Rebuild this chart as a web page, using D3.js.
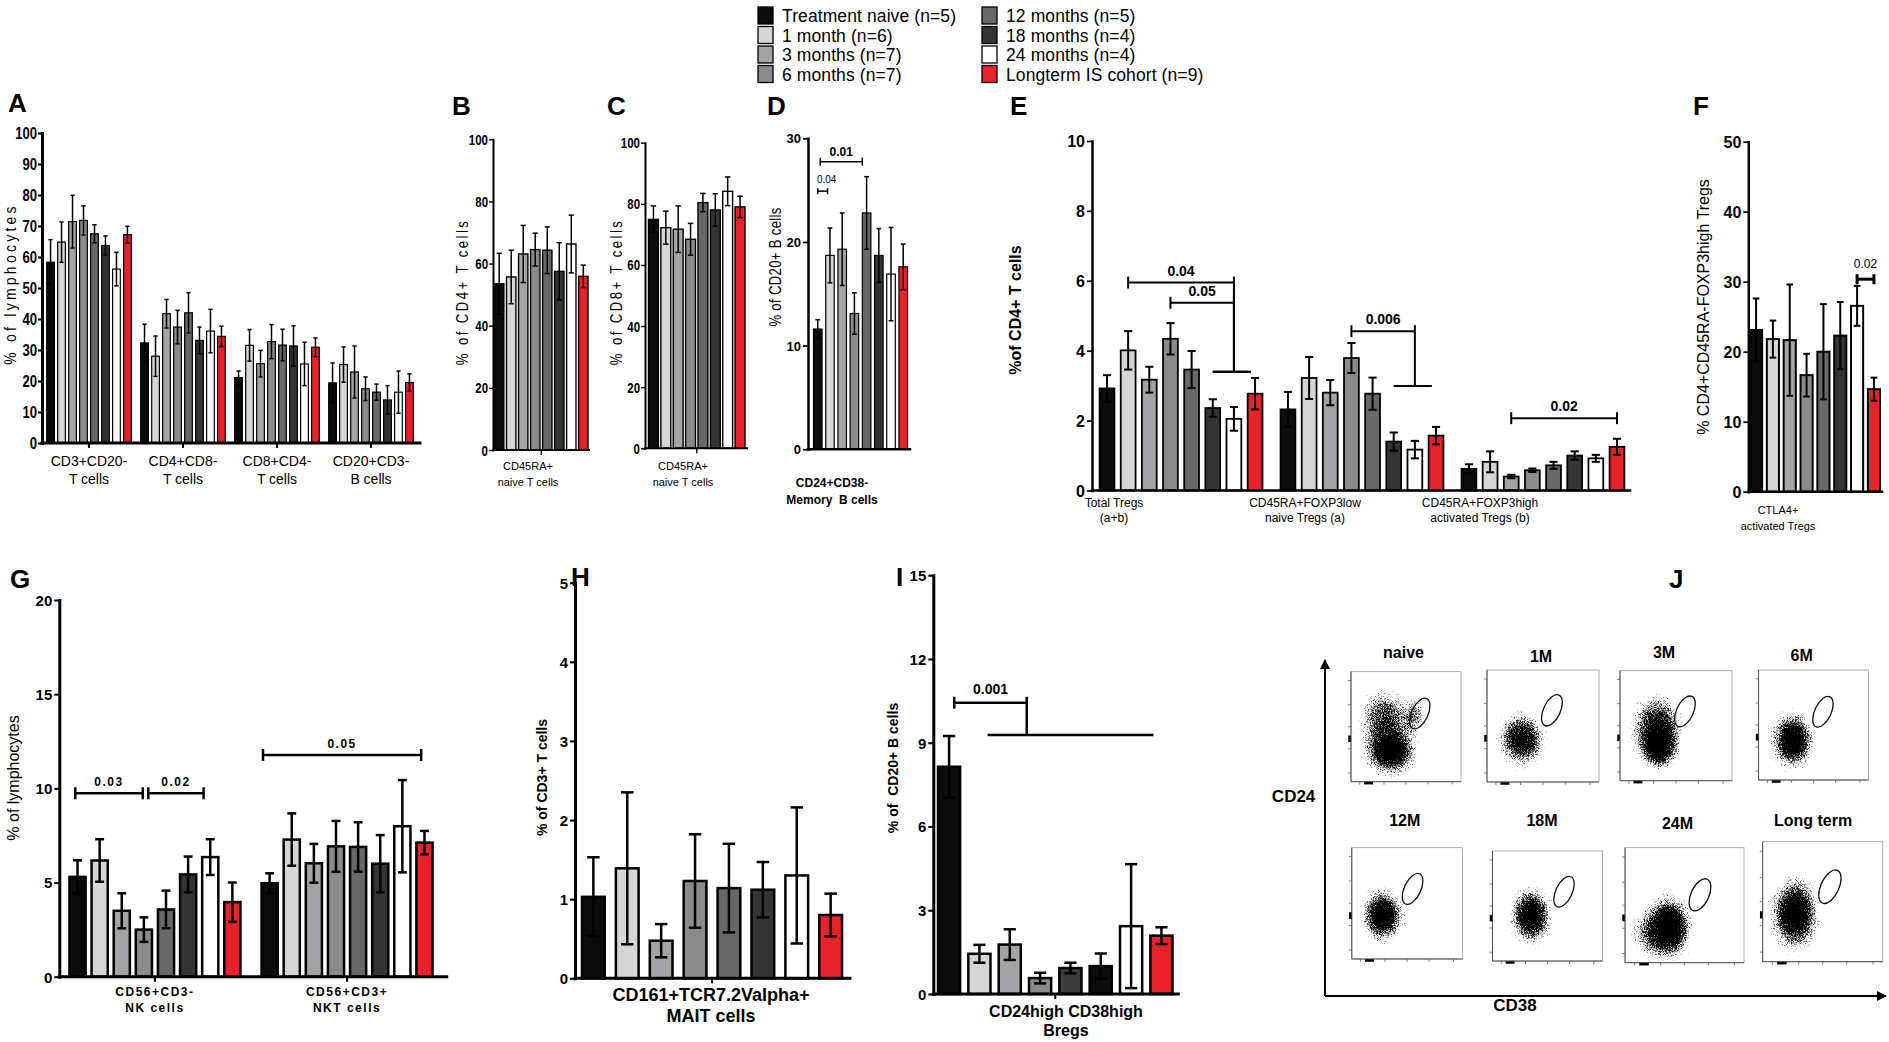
<!DOCTYPE html>
<html>
<head>
<meta charset="utf-8">
<script src="https://cdn.jsdelivr.net/npm/d3@7"></script>
<style>
  body { margin: 0; background: #fff; }
  svg { display: block; }
  text { font-family: "Liberation Sans", Arial, Helvetica, sans-serif; fill: #000; }
</style>
</head>
<body>
<svg id="fig" width="1889" height="1042"></svg>
<script>
// ---- data ----
var seriesNames = ["Treatment naive (n=5)", "1 month (n=6)", "3 months (n=7)", "6 months (n=7)",
  "12 months (n=5)", "18 months (n=4)", "24 months (n=4)", "Longterm IS cohort (n=9)"];

var groupsA = [["CD3+CD20-", "T cells"], ["CD4+CD8-", "T cells"], ["CD8+CD4-", "T cells"], ["CD20+CD3-", "B cells"]];
var meanA = [
  [58.3, 64.8, 71.4, 71.8, 67.5, 63.7, 56.1, 67.2],
  [32.3, 28.0, 41.7, 37.4, 42.0, 33.1, 36.1, 34.4],
  [21.1, 31.5, 25.6, 32.7, 31.6, 31.3, 25.5, 30.9],
  [19.4, 25.3, 22.9, 17.5, 16.4, 13.9, 16.4, 19.5]
];
var errA = [
  [7.3, 6.5, 8.5, 4.7, 2.9, 3.1, 5.4, 2.7],
  [6.0, 6.5, 4.6, 5.4, 6.5, 4.3, 7.0, 3.3],
  [2.1, 5.1, 4.3, 5.5, 5.1, 6.5, 7.0, 3.0],
  [6.4, 5.7, 8.4, 3.8, 2.6, 4.6, 6.8, 2.8]
];

var groupsB = [["CD45RA+", "naive T cells"]];
var meanB = [[53.5, 55.7, 63.1, 64.5, 64.3, 57.5, 66.3, 55.9]];
var errB = [[9.8, 8.6, 9.2, 5.3, 7.5, 9.2, 9.3, 3.6]];

var groupsC = [["CD45RA+", "naive T cells"]];
var meanC = [[74.9, 72.2, 71.7, 68.4, 80.4, 78.0, 84.1, 79.0]];
var errC = [[4.4, 5.4, 7.6, 5.2, 3.0, 5.3, 4.7, 3.5]];

var groupsD = [["CD24+CD38-", "Memory  B cells"]];
var meanD = [[11.6, 18.7, 19.3, 13.1, 22.8, 18.7, 16.9, 17.6]];
var errD = [[0.9, 2.65, 3.5, 2.0, 3.5, 2.6, 4.5, 2.2]];
var bracketsD = [
  { p: "0.01", g: 0, a: 0.2, b: 3.65, v: 27.75 },
  { p: "0.04", g: 0, a: 0, b: 0.8, v: 24.9, small: true }
];

var groupsE = [["Total Tregs", "(a+b)"], ["CD45RA+FOXP3low", "naive Tregs (a)"], ["CD45RA+FOXP3high", "activated Tregs (b)"]];
var meanE = [
  [2.92, 4.01, 3.17, 4.34, 3.46, 2.36, 2.05, 2.77],
  [2.32, 3.22, 2.80, 3.79, 2.77, 1.40, 1.17, 1.57],
  [0.62, 0.82, 0.40, 0.58, 0.72, 1.00, 0.92, 1.25]
];
var errE = [
  [0.38, 0.55, 0.37, 0.45, 0.53, 0.25, 0.34, 0.45],
  [0.50, 0.60, 0.36, 0.43, 0.46, 0.26, 0.25, 0.25],
  [0.13, 0.30, 0.05, 0.05, 0.10, 0.12, 0.10, 0.23]
];
var bracketsE = [
  { p: "0.04", g: 0, a: 1, b: 6, v: 5.95, v2: 3.4, c: 5, d: 6.8 },
  { p: "0.05", g: 0, a: 3, b: 6, v: 5.37, v2: 3.4, c: 5, d: 6.8 },
  { p: "0.006", g: 1, a: 3, b: 6, v: 4.56, v2: 2.99, c: 5, d: 6.8 },
  { p: "0.02", g: 2, a: 2, b: 7, v: 2.07 }
];

var groupsF = [["CTLA4+", "activated Tregs"]];
var meanF = [[23.1, 21.8, 21.65, 16.65, 20.0, 22.3, 26.55, 14.65]];
var errF = [[4.5, 2.65, 7.95, 3.05, 6.8, 4.8, 2.85, 1.65]];
var bracketsF = [{ p: "0.02", g: 0, a: 6, b: 7, v: 30.36 }];

var groupsG = [["CD56+CD3-", "NK cells"], ["CD56+CD3+", "NKT cells"]];
var meanG = [
  [5.30, 6.17, 3.50, 2.50, 3.57, 5.43, 6.35, 3.96],
  [4.96, 7.28, 6.02, 6.92, 6.89, 6.00, 7.99, 7.12]
];
var errG = [
  [0.88, 1.13, 0.93, 0.65, 1.00, 0.95, 0.95, 1.04],
  [0.53, 1.39, 1.03, 1.35, 1.31, 1.52, 2.45, 0.62]
];
var bracketsG = [
  { p: "0.03", g: 0, a: -0.1, b: 2.95, v: 9.74 },
  { p: "0.02", g: 0, a: 3.2, b: 5.7, v: 9.74 },
  { p: "0.05", g: 1, a: -0.3, b: 6.85, v: 11.77 }
];

var groupsH = [["CD161+TCR7.2Valpha+", "MAIT cells"]];
var meanH = [[1.03, 1.39, 0.475, 1.23, 1.14, 1.12, 1.30, 0.80]];
var errH = [[0.50, 0.96, 0.21, 0.59, 0.56, 0.35, 0.86, 0.27]];

var groupsI = [["CD24high CD38high", "Bregs"]];
var meanI = [[8.14, 1.44, 1.77, 0.57, 0.93, 1.00, 2.43, 2.09]];
var errI = [[1.10, 0.32, 0.55, 0.19, 0.19, 0.45, 2.22, 0.30]];
var bracketsI = [{ p: "0.001", g: 0, a: 0.17, b: 2.56, v: 10.43, v2: 9.28, c: 1.27, d: 6.74 }];

// flow plots (J): cloud blobs [cx, cy, rx, ry, density] in axis fractions, gate centre
var flowNames = ["naive", "1M", "3M", "6M", "12M", "18M", "24M", "Long term"];
var flowBlobs = [
  [[0.36, 0.28, 0.32, 0.30, 1.0], [0.31, 0.57, 0.32, 0.36, 0.7], [0.58, 0.60, 0.14, 0.22, 0.55]],
  [[0.31, 0.38, 0.28, 0.32, 0.9]],
  [[0.33, 0.46, 0.31, 0.44, 0.85], [0.35, 0.32, 0.20, 0.25, 1.0]],
  [[0.31, 0.36, 0.26, 0.34, 1.0]],
  [[0.28, 0.39, 0.25, 0.32, 1.0]],
  [[0.35, 0.41, 0.25, 0.34, 1.0]],
  [[0.37, 0.31, 0.26, 0.37, 1.0], [0.24, 0.26, 0.30, 0.28, 0.55]],
  [[0.27, 0.40, 0.27, 0.41, 1.0]]
];
var gateX = [0.625, 0.58, 0.58, 0.585, 0.55, 0.65, 0.63, 0.56];
var gateY = [0.62, 0.64, 0.63, 0.62, 0.63, 0.63, 0.59, 0.625];

// ---- styles ----
var barColors = ["#0b0b0b", "#d6d6d6", "#a4a4a7", "#8b8b8b", "#686868", "#343434", "#ffffff", "#e8222a"];
var colorsI = ["#0b0b0b", "#d6d6d6", "#a4a4a7", "#8b8b8b", "#3c3c3c", "#0b0b0b", "#ffffff", "#e8222a"];
var ARIAL = "'Liberation Sans',Arial,Helvetica,sans-serif";
var NARROW = "narrow";   // Arial squeezed horizontally
var SQ = 0.82;

var svg = d3.select("#fig");

// filter that turns smooth density blobs into speckled dot clouds
var defs = svg.append("defs");
var flt = defs.append("filter").attr("id", "speckle").attr("x", "-10%").attr("y", "-10%")
  .attr("width", "120%").attr("height", "120%").attr("color-interpolation-filters", "sRGB");
flt.append("feTurbulence").attr("type", "fractalNoise").attr("baseFrequency", 1.3)
  .attr("numOctaves", 2).attr("seed", 4).attr("result", "noise");
flt.append("feColorMatrix").attr("in", "noise").attr("type", "matrix")
  .attr("values", "0 0 0 0 0  0 0 0 0 0  0 0 0 0 0  1 0 0 0 0").attr("result", "na");
flt.append("feComposite").attr("in", "SourceAlpha").attr("in2", "na").attr("operator", "arithmetic")
  .attr("k1", 0).attr("k2", 3).attr("k3", -3).attr("k4", 0.4).attr("result", "mix");
flt.append("feColorMatrix").attr("in", "mix").attr("type", "matrix")
  .attr("values", "0 0 0 0 0  0 0 0 0 0  0 0 0 0 0  0 0 0 1 0");
var grad = defs.append("radialGradient").attr("id", "blob");
grad.append("stop").attr("offset", "0").attr("stop-color", "#000").attr("stop-opacity", 1);
grad.append("stop").attr("offset", "0.35").attr("stop-color", "#000").attr("stop-opacity", 0.8);
grad.append("stop").attr("offset", "0.7").attr("stop-color", "#000").attr("stop-opacity", 0.3);
grad.append("stop").attr("offset", "1").attr("stop-color", "#000").attr("stop-opacity", 0);

// text helper; "narrow" text is Arial squeezed, rot rotates around the anchor
function txt(g, x, y, s, size, fam, wt, anchor, rot) {
  var narrow = fam === NARROW;
  var t = g.append("text").attr("font-size", size)
    .attr("font-family", narrow ? ARIAL : (fam || ARIAL)).attr("font-weight", wt || "normal")
    .attr("text-anchor", anchor || "middle").text(s);
  if (narrow || rot) {
    t.attr("transform", "translate(" + x + "," + y + ")" + (rot ? " rotate(" + rot + ")" : "") +
      (narrow ? " scale(" + SQ + ",1)" : ""));
  } else {
    t.attr("x", x).attr("y", y);
  }
  return t;
}

function barPanel(o) {
  var g = svg.append("g");
  var cols = o.colors || barColors;
  var y = d3.scaleLinear().domain([0, o.max]).range([o.yZero, o.yTop]);
  var gx = d3.scaleBand().domain(d3.range(o.means.length)).range(o.band)
    .paddingInner(o.gPad || 0).paddingOuter(o.gOut || 0);
  var sx = d3.scaleBand().domain(d3.range(8)).range([0, gx.bandwidth()]).paddingInner(o.sPad);
  function pos(gi, t) { return gx(gi) + sx.step() * t + sx.bandwidth() / 2; }

  // bars
  o.means.forEach(function (row, gi) {
    g.append("g").selectAll("rect").data(row).enter().append("rect")
      .attr("x", function (d, si) { return gx(gi) + sx(si); })
      .attr("y", function (d) { return y(d); })
      .attr("width", sx.bandwidth())
      .attr("height", function (d) { return y(0) - y(d); })
      .attr("fill", function (d, si) { return cols[si]; })
      .attr("stroke", "#000").attr("stroke-width", o.barW);
  });

  // error bars (mean +/- SEM)
  var eg = g.append("g").attr("stroke", "#000").attr("stroke-width", o.errW);
  o.means.forEach(function (row, gi) {
    row.forEach(function (v, si) {
      var e = o.errs[gi][si], cx = pos(gi, si), hw = sx.bandwidth() * 0.55 / 2;
      var lo = Math.max(0, v - e), hi = v + e;
      eg.append("line").attr("x1", cx).attr("x2", cx).attr("y1", y(lo)).attr("y2", y(hi));
      [lo, hi].forEach(function (w) {
        eg.append("line").attr("x1", cx - hw).attr("x2", cx + hw).attr("y1", y(w)).attr("y2", y(w));
      });
    });
  });

  // y axis
  var tl = o.tickLen || 5, tp = o.tickPad == null ? 2 : o.tickPad;
  var ya = g.append("g").attr("transform", "translate(" + o.x0 + ",0)")
    .call(d3.axisLeft(y).tickValues(o.ticks).tickFormat(d3.format("d"))
      .tickSizeOuter(0).tickSizeInner(tl).tickPadding(tp));
  ya.attr("font-family", null).attr("font-size", null);
  ya.select(".domain").attr("stroke-width", o.axisW).attr("stroke-linecap", "square");
  ya.selectAll(".tick line").attr("stroke-width", Math.max(1.2, o.axisW * 0.7));
  var tt = ya.selectAll(".tick text").attr("font-family", ARIAL).attr("font-size", o.tickSize)
    .attr("font-weight", o.tickWt || "bold").attr("fill", "#000").attr("dy", "0.36em");
  if (o.tickFam === NARROW) {
    tt.attr("x", -(tl + tp) / SQ).attr("transform", "scale(" + SQ + ",1)");
  }

  // x axis
  var xa = g.append("g").attr("transform", "translate(0," + o.yZero + ")")
    .call(d3.axisBottom(gx).tickSizeOuter(0).tickSizeInner(o.gTick ? 5 : 0).tickFormat(""));
  xa.select(".domain").attr("d", "M" + o.x0 + ",0H" + o.x1)
    .attr("stroke-width", o.axisW).attr("stroke-linecap", "square");
  xa.selectAll(".tick line").attr("stroke-width", Math.max(1.2, o.axisW * 0.7));

  // group labels
  o.groups.forEach(function (lines, gi) {
    var cx = o.glabX ? o.glabX[gi] : pos(gi, 3.5);
    lines.forEach(function (s, li) {
      txt(g, cx, o.glabY[li], s, o.glabSize, o.glabFam, o.glabWt)
        .attr("letter-spacing", o.glabLs || null).style("white-space", "pre");
    });
  });

  // y label
  txt(g, o.ylab.x, o.ylab.y, o.ylab.t, o.ylab.size, o.ylab.fam, o.ylab.wt, "middle", -90)
    .attr("dy", "0.35em").attr("letter-spacing", o.ylab.ls || null).style("white-space", "pre");

  // significance brackets
  (o.brackets || []).forEach(function (b) {
    var bg = g.append("g").attr("stroke", "#000").attr("stroke-width", o.brW).attr("fill", "none");
    var xa1 = pos(b.g, b.a), xb1 = pos(b.g, b.b), yy = y(b.v), ch = b.small ? 3 : o.capH;
    bg.append("line").attr("x1", xa1).attr("x2", xb1).attr("y1", yy).attr("y2", yy);
    bg.append("line").attr("x1", xa1).attr("x2", xa1).attr("y1", yy - ch).attr("y2", yy + ch);
    if (b.v2 == null) {
      bg.append("line").attr("x1", xb1).attr("x2", xb1).attr("y1", yy - ch).attr("y2", yy + ch);
    } else {
      var y2 = y(b.v2);
      bg.append("line").attr("x1", xb1).attr("x2", xb1).attr("y1", yy - ch).attr("y2", y2);
      bg.append("line").attr("x1", pos(b.g, b.c)).attr("x2", pos(b.g, b.d)).attr("y1", y2).attr("y2", y2);
    }
    txt(g, (xa1 + xb1) / 2 + (b.small ? 4 : 0), yy - (b.small ? 8 : o.brGap), b.p,
      b.small ? o.brSize - 2 : o.brSize, ARIAL, b.small ? "normal" : o.brWt)
      .attr("letter-spacing", o.brLs || null);
  });

  // panel letter
  txt(svg, o.letter[1], o.letter[2], o.letter[0], 26, ARIAL, "bold", "start");
}

// ---- legend ----
seriesNames.forEach(function (name, i) {
  var col = i < 4 ? 0 : 1, row = i % 4;
  svg.append("rect").attr("x", col ? 982 : 758).attr("y", 7 + row * 19.5)
    .attr("width", 15).attr("height", 17).attr("fill", barColors[i])
    .attr("stroke", "#000").attr("stroke-width", 1.3);
  txt(svg, col ? 1006 : 782, 22 + row * 19.5, name, 17.5, ARIAL, "normal", "start")
    .attr("letter-spacing", 0.1);
});

// ---- top row ----
barPanel({ means: meanA, errs: errA, groups: groupsA, x0: 42, x1: 420, band: [42, 418], gPad: 0.1, gOut: 0.05,
  sPad: 0.3, yZero: 443, yTop: 133, max: 100, ticks: d3.range(0, 101, 10), tickFam: NARROW, tickSize: 16,
  tickLen: 4, tickPad: 1, axisW: 3, barW: 1.2, errW: 1.5, gTick: true, glabY: [466, 484], glabSize: 14,
  glabFam: ARIAL,
  ylab: { t: "% of lymphocytes", x: 10, y: 284, size: 17, fam: NARROW, ls: 4 }, letter: ["A", 8, 112] });

barPanel({ means: meanB, errs: errB, groups: groupsB, x0: 493, x1: 589, band: [494.5, 588], sPad: 0.22,
  yZero: 450, yTop: 139.3, max: 100, ticks: d3.range(0, 101, 20), tickFam: NARROW, tickSize: 14,
  tickLen: 4, tickPad: 1, axisW: 2, barW: 1.4, errW: 1.5, gTick: true, glabX: [528], glabY: [470, 486],
  glabSize: 11, glabFam: ARIAL,
  ylab: { t: "% of CD4+ T cells", x: 462, y: 292, size: 16, fam: NARROW, ls: 3 }, letter: ["B", 452, 115] });

barPanel({ means: meanC, errs: errC, groups: groupsC, x0: 645, x1: 747, band: [648.5, 745], sPad: 0.2,
  yZero: 448.3, yTop: 142.7, max: 100, ticks: d3.range(0, 101, 20), tickFam: NARROW, tickSize: 14,
  tickLen: 4, tickPad: 1, axisW: 2, barW: 1.4, errW: 1.5, gTick: true, glabX: [683], glabY: [470, 486],
  glabSize: 11, glabFam: ARIAL,
  ylab: { t: "% of CD8+ T cells", x: 616, y: 292, size: 16, fam: NARROW, ls: 3 }, letter: ["C", 607, 115] });

barPanel({ means: meanD, errs: errD, groups: groupsD, brackets: bracketsD, x0: 808, x1: 910, band: [813.5, 907.5],
  sPad: 0.3, yZero: 449.3, yTop: 138.3, max: 30, ticks: [0, 10, 20, 30], tickFam: ARIAL, tickSize: 13,
  axisW: 2.5, barW: 1.2, errW: 1.5, glabX: [832], glabY: [487, 504], glabSize: 12, glabFam: ARIAL, glabWt: "bold",
  brW: 1.5, capH: 4, brGap: 6, brSize: 12, brWt: "bold",
  ylab: { t: "% of CD20+ B cells", x: 775, y: 267, size: 16, fam: NARROW, ls: 0.4 }, letter: ["D", 767, 115] });

barPanel({ means: meanE, errs: errE, groups: groupsE, brackets: bracketsE, x0: 1092, x1: 1630, band: [1092, 1632],
  gPad: 0.1, gOut: 0.042, sPad: 0.3, yZero: 490.5, yTop: 141, max: 10, ticks: d3.range(0, 11, 2),
  tickFam: ARIAL, tickSize: 16, axisW: 2.5, barW: 1.8, errW: 2, glabX: [1114, 1305, 1480], glabY: [507, 522],
  glabSize: 12, glabFam: ARIAL, brW: 2, capH: 6, brGap: 7, brSize: 14, brWt: "bold",
  ylab: { t: "%of CD4+ T cells", x: 1015, y: 310, size: 16, fam: ARIAL, wt: "bold" }, letter: ["E", 1010, 115] });

barPanel({ means: meanF, errs: errF, groups: groupsF, brackets: bracketsF, x0: 1748.3, x1: 1882, band: [1750, 1880],
  sPad: 0.28, yZero: 491.7, yTop: 141.7, max: 50, ticks: d3.range(0, 51, 10), tickFam: ARIAL, tickSize: 16,
  axisW: 2.5, barW: 2, errW: 2, glabX: [1778], glabY: [514, 530], glabSize: 11, glabFam: ARIAL,
  brW: 3, capH: 5, brGap: 11, brSize: 12, brWt: "normal",
  ylab: { t: "% CD4+CD45RA-FOXP3high Tregs", x: 1703, y: 307, size: 16, fam: ARIAL }, letter: ["F", 1693, 115] });

// ---- bottom row ----
barPanel({ means: meanG, errs: errG, groups: groupsG, brackets: bracketsG, x0: 59.3, x1: 446.7, band: [56, 446],
  gPad: 0.11, gOut: 0.07, sPad: 0.27, yZero: 976.7, yTop: 600, max: 20, ticks: d3.range(0, 21, 5),
  tickFam: ARIAL, tickSize: 15, axisW: 3, barW: 2.5, errW: 2.5, gTick: true, glabY: [996, 1012],
  glabSize: 12, glabFam: ARIAL, glabWt: "bold", glabLs: 1.5, brW: 2.5, capH: 6, brGap: 7, brSize: 12,
  brWt: "bold", brLs: 1.5,
  ylab: { t: "% of lymphocytes", x: 13.3, y: 778, size: 16, fam: ARIAL }, letter: ["G", 10, 588] });

barPanel({ means: meanH, errs: errH, groups: groupsH, x0: 575, x1: 850, band: [582, 842], sPad: 0.33,
  yZero: 978.3, yTop: 582.7, max: 5, ticks: d3.range(0, 6, 1), tickFam: ARIAL, tickSize: 15, axisW: 3,
  barW: 2.5, errW: 2.5, gTick: true, glabX: [711], glabY: [1001, 1022], glabSize: 18, glabFam: ARIAL, glabWt: "bold",
  ylab: { t: "% of CD3+ T cells", x: 541.7, y: 777.5, size: 14, fam: ARIAL, wt: "bold" }, letter: ["H", 571, 586] });

barPanel({ means: meanI, errs: errI, groups: groupsI, brackets: bracketsI, colors: colorsI, x0: 933.3, x1: 1178.3,
  band: [938, 1172.5], sPad: 0.27, yZero: 994, yTop: 575.2, max: 15, ticks: d3.range(0, 16, 3), tickFam: ARIAL,
  tickSize: 15, axisW: 3, barW: 2.5, errW: 2.5, gTick: true, glabX: [1066], glabY: [1017, 1036], glabSize: 16,
  glabFam: ARIAL, glabWt: "bold", brW: 2.5, capH: 6, brGap: 9, brSize: 14, brWt: "bold",
  ylab: { t: "% of  CD20+ B cells", x: 893, y: 768, size: 14, fam: ARIAL, wt: "bold" }, letter: ["I", 896, 586] });

// ---- J: flow cytometry dot plots ----
var flowLayout = [
  { x: 1351, y: 671.7, w: 110, h: 110, lx: 1403.5, ly: 658.3 },
  { x: 1487, y: 670, w: 112, h: 112, lx: 1541, ly: 661.7 },
  { x: 1620, y: 670.7, w: 112, h: 110, lx: 1664, ly: 658 },
  { x: 1758.6, y: 670, w: 110, h: 110, lx: 1801.7, ly: 660.7 },
  { x: 1351.8, y: 847.7, w: 110.5, h: 111.3, lx: 1404.7, ly: 825.7 },
  { x: 1492.5, y: 851, w: 110, h: 110, lx: 1542, ly: 825.7 },
  { x: 1625, y: 847.7, w: 119, h: 115, lx: 1677.5, ly: 829 },
  { x: 1762.7, y: 841.7, w: 120, h: 120, lx: 1813, ly: 825.7 }
];
var jg = svg.append("g");
flowNames.forEach(function (name, i) {
  var L = flowLayout[i];
  var xs = d3.scaleLinear().domain([0, 1]).range([L.x, L.x + L.w]);
  var ys = d3.scaleLinear().domain([0, 1]).range([L.y + L.h, L.y]);
  var box = jg.append("g");
  box.append("rect").attr("x", L.x).attr("y", L.y).attr("width", L.w).attr("height", L.h)
    .attr("fill", "#fff").attr("stroke", "#9a9a9a").attr("stroke-width", 0.8);
  box.append("path").attr("d", "M" + L.x + "," + L.y + "V" + (L.y + L.h) + "H" + (L.x + L.w))
    .attr("stroke", "#444").attr("stroke-width", 0.9).attr("fill", "none");
  // small log-scale ticks
  var tk = [0.08, 0.3, 0.5, 0.7, 0.92];
  box.selectAll(".tx").data(tk).enter().append("line")
    .attr("x1", function (d) { return xs(d); }).attr("x2", function (d) { return xs(d); })
    .attr("y1", L.y + L.h).attr("y2", L.y + L.h + 3).attr("stroke", "#555").attr("stroke-width", 0.7);
  box.selectAll(".ty").data(tk).enter().append("line")
    .attr("y1", function (d) { return ys(d); }).attr("y2", function (d) { return ys(d); })
    .attr("x1", L.x).attr("x2", L.x - 3).attr("stroke", "#555").attr("stroke-width", 0.7);
  box.append("line").attr("x1", xs(0.12)).attr("x2", xs(0.2)).attr("y1", L.y + L.h + 1.5).attr("y2", L.y + L.h + 1.5)
    .attr("stroke", "#000").attr("stroke-width", 2.5);
  box.append("line").attr("x1", L.x - 1.5).attr("x2", L.x - 1.5).attr("y1", ys(0.42)).attr("y2", ys(0.36))
    .attr("stroke", "#000").attr("stroke-width", 2.5);
  // dot cloud, kept inside the plot frame
  var clip = defs.append("clipPath").attr("id", "clipJ" + i);
  clip.append("rect").attr("x", L.x + 1).attr("y", L.y + 1).attr("width", L.w - 2).attr("height", L.h - 2);
  var cloud = box.append("g").attr("clip-path", "url(#clipJ" + i + ")")
    .append("g").attr("filter", "url(#speckle)");
  cloud.selectAll("ellipse").data(flowBlobs[i]).enter().append("ellipse")
    .attr("cx", function (d) { return xs(d[0]); })
    .attr("cy", function (d) { return ys(d[1]); })
    .attr("rx", function (d) { return xs(d[2]) - xs(0); })
    .attr("ry", function (d) { return ys(0) - ys(d[3]); })
    .attr("fill", "url(#blob)")
    .attr("fill-opacity", function (d) { return d[4]; });
  // Breg gate
  var gcx = xs(gateX[i]), gcy = ys(gateY[i]);
  box.append("ellipse").attr("cx", gcx).attr("cy", gcy).attr("rx", L.w * 0.075).attr("ry", L.h * 0.15)
    .attr("transform", "rotate(25," + gcx + "," + gcy + ")")
    .attr("fill", "none").attr("stroke", "#111").attr("stroke-width", 1.3);
  txt(jg, L.lx, L.ly, name, 16, ARIAL, "bold");
});
// big axes with arrows
defs.append("marker").attr("id", "arrow").attr("viewBox", "0 0 10 10").attr("refX", 9).attr("refY", 5)
  .attr("markerWidth", 5).attr("markerHeight", 5).attr("orient", "auto")
  .append("path").attr("d", "M0,0L10,5L0,10z").attr("fill", "#000");
jg.append("path").attr("d", "M1325,996V660").attr("stroke", "#000").attr("stroke-width", 2)
  .attr("fill", "none").attr("marker-end", "url(#arrow)");
jg.append("path").attr("d", "M1325,996H1886").attr("stroke", "#000").attr("stroke-width", 2)
  .attr("fill", "none").attr("marker-end", "url(#arrow)");
txt(jg, 1293.6, 802, "CD24", 17, ARIAL, "bold");
txt(jg, 1515, 1011, "CD38", 17, ARIAL, "bold");
txt(svg, 1669, 588, "J", 26, ARIAL, "bold", "start");
</script>
</body>
</html>
